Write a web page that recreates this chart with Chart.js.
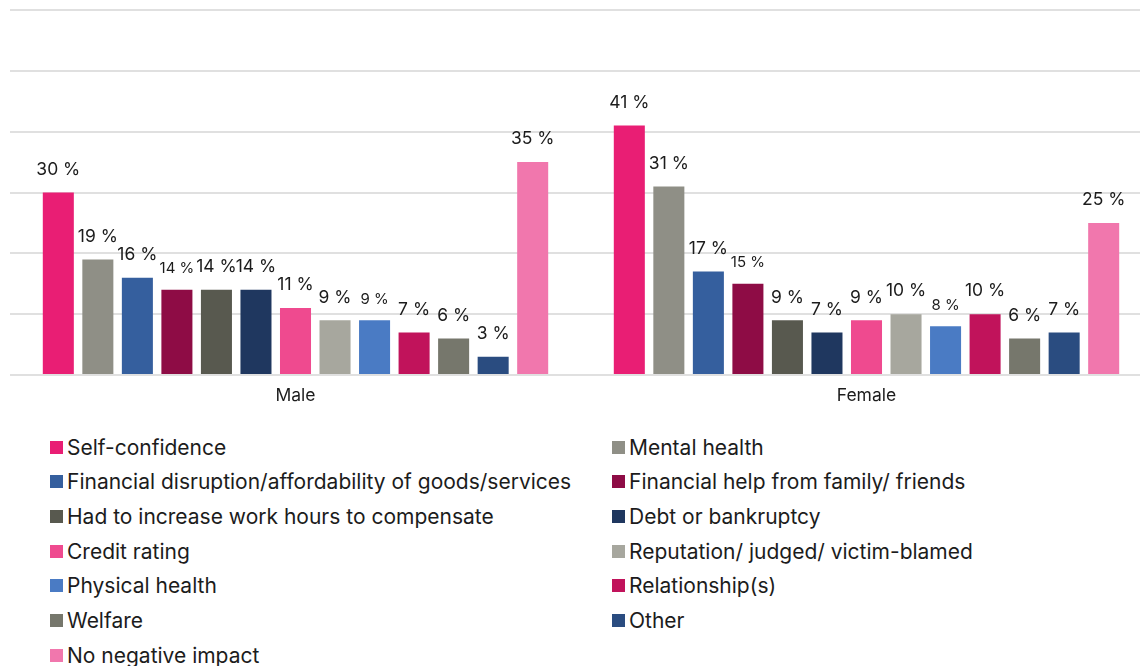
<!DOCTYPE html>
<html>
<head>
<meta charset="utf-8">
<script src="https://cdn.jsdelivr.net/npm/chart.js@4/dist/chart.umd.min.js"></script>
<style>
  html, body { margin: 0; padding: 0; background: #fff; overflow: hidden; width: 1140px; height: 666px; }
  #wrap { position: relative; width: 1152px; height: 408px; }
  #leyenda { position: absolute; left: 50px; top: 430px; width: 1090px; font-family: Inter, "Noto Sans", sans-serif; font-size: 21px; color: #1c1c1c; }
  .item { position: absolute; display: flex; align-items: center; white-space: nowrap; height: 34px; }
  .caja { width: 13px; height: 13px; margin-right: 4px; }
</style>
</head>
<body>
<div id="wrap"><canvas id="grafica"></canvas></div>
<div id="leyenda"></div>
<script>
// --- datos ---
const categorias = ['Male', 'Female'];
const series = [
  'Self-confidence',
  'Mental health',
  'Financial disruption/affordability of goods/services',
  'Financial help from family/ friends',
  'Had to increase work hours to compensate',
  'Debt or bankruptcy',
  'Credit rating',
  'Reputation/ judged/ victim-blamed',
  'Physical health',
  'Relationship(s)',
  'Welfare',
  'Other',
  'No negative impact'
];
const valoresMale   = [30, 19, 16, 14, 14, 14, 11, 9, 9, 7, 6, 3, 35];
const valoresFemale = [41, 31, 17, 15, 9, 7, 9, 10, 8, 10, 6, 7, 25];
const colores = [
  '#e91e74', '#8f8f86', '#355f9e', '#8e0c45', '#58594f', '#1f375f', '#ef4a8f',
  '#a7a79e', '#4a7bc4', '#c1135b', '#76776c', '#2a4c80', '#f177ad'
];
// etiquetas en letra pequeña (Financial help, Physical health)
const etiquetasPequenas = [3, 8];

const datasets = series.map((nombre, i) => ({
  label: nombre,
  data: [valoresMale[i], valoresFemale[i]],
  backgroundColor: colores[i],
  borderWidth: 0,
  categoryPercentage: 0.9,
  barPercentage: 0.785
}));

// Etiquetas de valor encima de cada barra
const etiquetasValor = {
  id: 'etiquetasValor',
  afterDatasetsDraw(chart) {
    const ctx = chart.ctx;
    ctx.save();
    ctx.fillStyle = '#1c1c1c';
    ctx.textAlign = 'center';
    ctx.textBaseline = 'middle';
    chart.data.datasets.forEach((ds, i) => {
      const meta = chart.getDatasetMeta(i);
      const pequena = etiquetasPequenas.includes(i);
      ctx.font = (pequena ? '15px' : '17.5px') + ' Inter, "Noto Sans", sans-serif';
      meta.data.forEach((bar, j) => {
        ctx.fillText(ds.data[j] + ' %', bar.x, bar.y - (pequena ? 21 : 23));
      });
    });
    ctx.restore();
  }
};

const ctx = document.getElementById('grafica').getContext('2d');
new Chart(ctx, {
  type: 'bar',
  data: { labels: categorias, datasets: datasets },
  options: {
    responsive: true,
    maintainAspectRatio: false,
    animation: false,
    layout: { padding: { top: 10, left: 10, right: 0, bottom: 0 } },
    plugins: { legend: { display: false }, tooltip: { enabled: false } },
    scales: {
      x: {
        grid: { display: false },
        border: { display: false },
        ticks: { color: '#1c1c1c', font: { family: 'Inter', size: 17.5 }, padding: 2 }
      },
      y: {
        min: 0, max: 60,
        ticks: { display: false, stepSize: 10 },
        grid: { color: '#e0e0e0', lineWidth: 2, drawTicks: false },
        border: { display: false }
      }
    }
  },
  plugins: [etiquetasValor]
});

// Leyenda en dos columnas
const leyenda = document.getElementById('leyenda');
series.forEach((nombre, i) => {
  const fila = Math.floor(i / 2);
  const col = i % 2;
  const item = document.createElement('div');
  item.className = 'item';
  item.style.left = (col * 562) + 'px';
  item.style.top = (fila * 34.7) + 'px';
  item.innerHTML = `<span class="caja" style="background:${colores[i]}"></span><span>${nombre}</span>`;
  leyenda.appendChild(item);
});
</script>
</body>
</html>
